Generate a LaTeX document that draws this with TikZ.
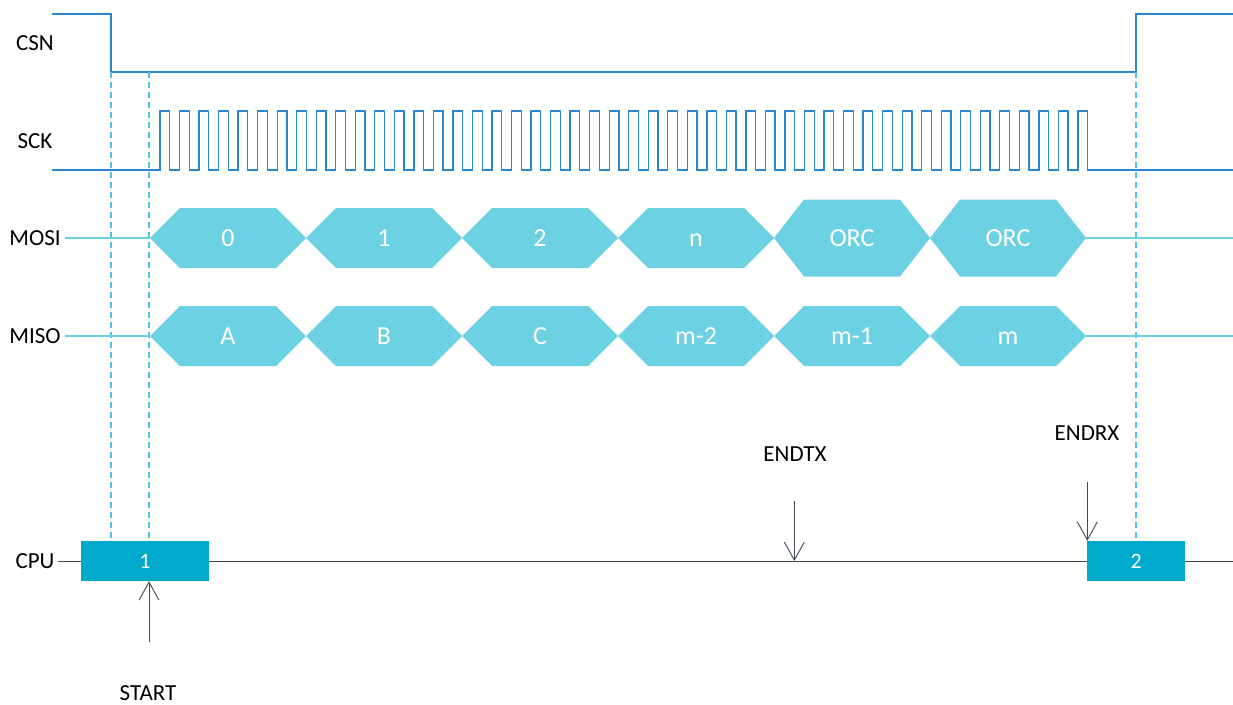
\documentclass[tikz,border=0pt]{standalone}
\usepackage{fontspec}
\setmainfont{Carlito}
\usetikzlibrary{arrows.meta}
\definecolor{sigblue}{HTML}{2D87CF}
\definecolor{hexfill}{HTML}{6BD1E3}
\definecolor{dashc}{HTML}{4CC6E0}
\definecolor{boxfill}{HTML}{00AACC}
\definecolor{cpuline}{HTML}{3F4853}
\newcommand{\hexcell}[6]{% x0, x1, yc, h, label, name
  \fill[hexfill] (#1,#3) -- ({#1+30},{#3-#4}) -- ({#2-30},{#3-#4}) -- (#2,#3) -- ({#2-30},{#3+#4}) -- ({#1+30},{#3+#4}) -- cycle;
  \node[hextxt] (#6) at ({(#1+#2)/2},#3) {#5};
}
\begin{document}
\begin{tikzpicture}[x=1pt,y=-1pt,
  lbl/.style={font=\fontsize{23}{27}\selectfont, text=black, inner sep=0pt, text height=15pt, text depth=0pt},
  hextxt/.style={font=\fontsize{26}{30}\selectfont, text=white, inner sep=0pt, text height=17pt, text depth=0pt},
  sig/.style={draw=sigblue, line width=1.3pt},
  bus/.style={draw=hexfill, line width=1.3pt},
  guide/.style={draw=dashc, line width=1.3pt, dash pattern=on 6pt off 4pt},
  cpubox/.style={fill=boxfill, minimum width=#1, minimum height=40pt, inner sep=0pt, text=white, font=\fontsize{22}{26}\selectfont, text height=14pt, text depth=0pt},
  evt/.style={draw=cpuline, line width=0.9pt, -{Straight Barb[length=18pt,width=20pt,line width=0.9pt]}}
]
\useasboundingbox (0,0) rectangle (1233,704);
% labels
\node[lbl] (csn) at (35,43) {CSN};
\node[lbl] (sck) at (35,141) {SCK};
\node[lbl] (mosi) at (35,238) {MOSI};
\node[lbl] (miso) at (35,336) {MISO};
\node[lbl] (cpu) at (35,561) {CPU};
% CSN
\draw[sig] (52,14) -- (111,14) -- (111,72) -- (1136,72) -- (1136,14) -- (1233,14);
% SCK
\draw[sig] (52,170) -- (160,170)
  foreach \i in {0,...,47} { -- ({160+\i*19.53},170) -- ({160+\i*19.53},111) -- ({169.7+\i*19.53},111) -- ({169.7+\i*19.53},170) }
  -- (1233,170);
% CPU boxes
\node[cpubox=128pt] (b1) at (145,561) {1};
\node[cpubox=98pt] (b2) at (1136.2,561) {2};
% CPU line
\draw[draw=cpuline, line width=0.9pt] (cpu.east) ++(3,0) -- (b1.west);
\draw[draw=cpuline, line width=0.9pt] (b1.east) -- (b2.west);
\draw[draw=cpuline, line width=0.9pt] (b2.east) -- (1233,561);
% guides
\draw[guide] (111,72) -- (111,540.5);
\draw[guide] (149,72) -- (149,540.5);
\draw[guide] (1136,72) -- (1136,540.5);
% MOSI / MISO lines
\draw[bus] (65,238) -- (150,238);
\draw[bus] (1086,238) -- (1233,238);
\draw[bus] (65,336) -- (150,336);
\draw[bus] (1086,336) -- (1233,336);
% MOSI cells
\hexcell{150}{306}{238}{30}{0}{d0}
\hexcell{306}{462}{238}{30}{1}{d1}
\hexcell{462}{618}{238}{30}{2}{d2}
\hexcell{618}{774}{238}{30}{n}{dn}
\hexcell{774}{930}{238}{38.5}{ORC}{orc1}
\hexcell{930}{1086}{238}{38.5}{ORC}{orc2}
% MISO cells
\hexcell{150}{306}{336}{30}{A}{qa}
\hexcell{306}{462}{336}{30}{B}{qb}
\hexcell{462}{618}{336}{30}{C}{qc}
\hexcell{618}{774}{336}{30}{m-2}{qm2}
\hexcell{774}{930}{336}{30}{m-1}{qm1}
\hexcell{930}{1086}{336}{30}{m}{qm}
% events
\coordinate (startc) at (149,642);
\coordinate (endtxc) at (794.3,501);
\coordinate (endtxp) at (794.3,561);
\coordinate (endrxc) at (1087.3,482);
\draw[evt] (startc) -- (startc |- b1.south);
\draw[evt] (endtxc) -- (endtxp);
\draw[evt] (endrxc) -- (endrxc |- b2.north);
\node[lbl] (start) at (148,693) {START};
\node[lbl] (endtx) at (795,454) {ENDTX};
\node[lbl] (endrx) at (1087,433) {ENDRX};
\end{tikzpicture}
\end{document}
